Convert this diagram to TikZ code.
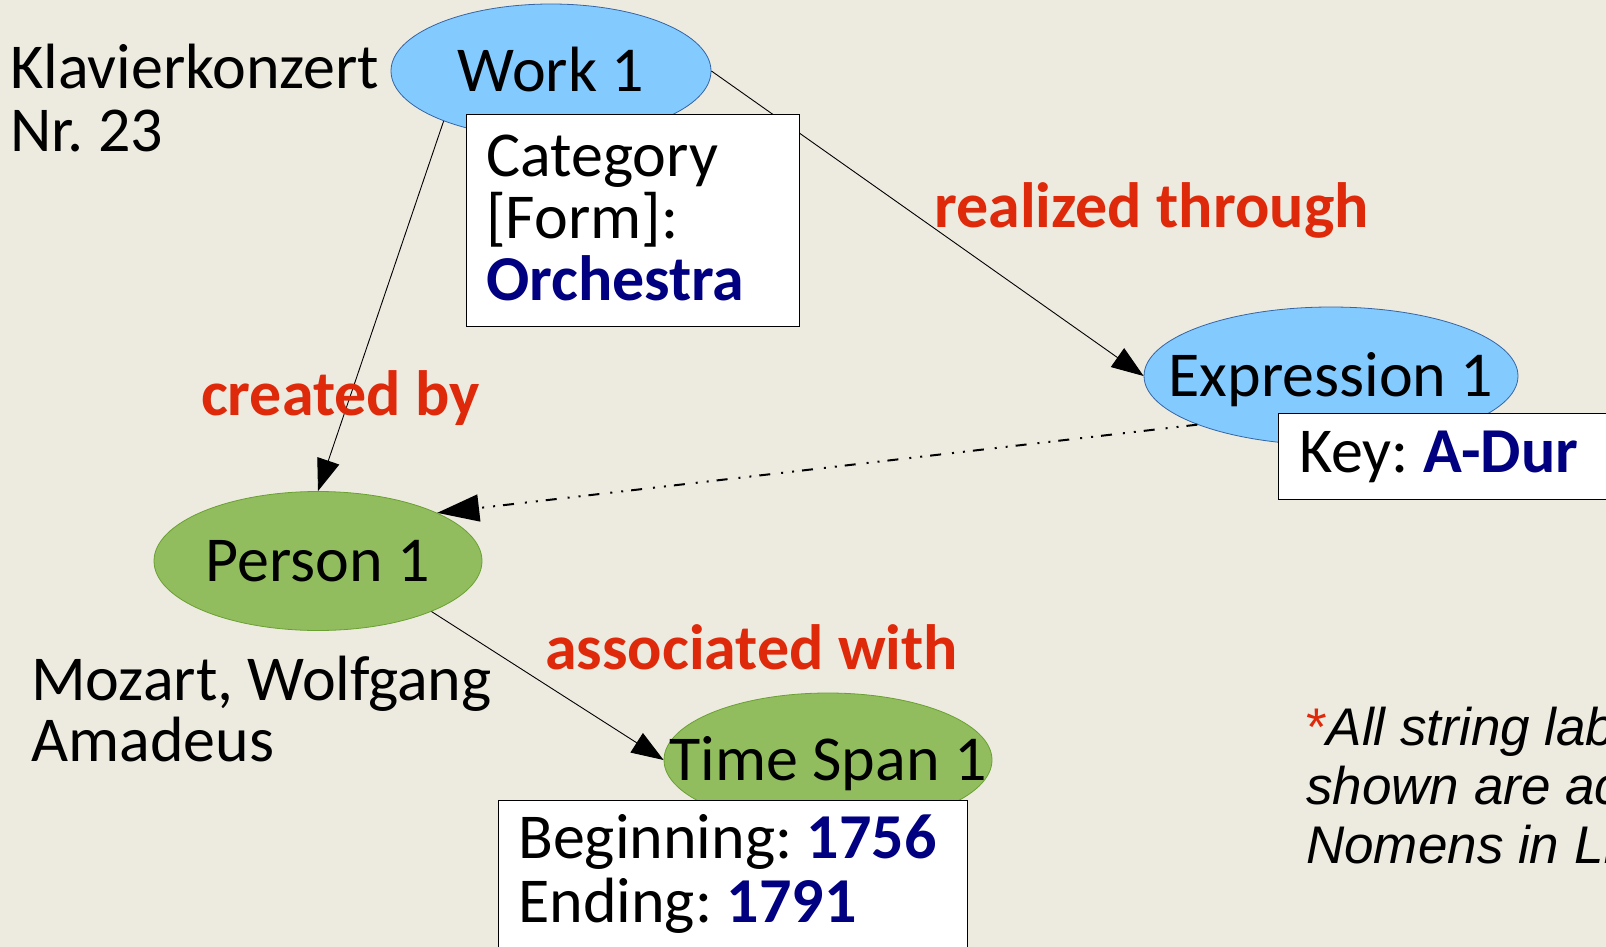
\documentclass[tikz,border=0pt]{standalone}
\usepackage{fontspec}
\setmainfont{Carlito}
\newfontfamily\notefont{Liberation Sans}
\usetikzlibrary{shapes.geometric,arrows.meta}
\definecolor{bg}{RGB}{237,235,224}
\definecolor{ellblue}{RGB}{131,202,255}
\definecolor{ellblueborder}{RGB}{52,101,164}
\definecolor{ellgreen}{RGB}{146,189,94}
\definecolor{ellgreenborder}{RGB}{106,160,50}
\definecolor{relred}{RGB}{222,41,10}
\definecolor{valblue}{RGB}{0,0,128}
\frenchspacing
\begin{document}
\begin{tikzpicture}[x=1pt,y=-1pt,
  ent/.style={ellipse, draw, line width=0.8pt, inner sep=0pt},
  blueent/.style={ent, fill=ellblue, draw=ellblueborder},
  greenent/.style={ent, fill=ellgreen, draw=ellgreenborder},
  bigfont/.style={font=\fontsize{64}{62}\selectfont},
  txt/.style={bigfont, inner sep=0pt, anchor=base west},
  ctr/.style={bigfont, inner sep=0pt, text height=41pt, text depth=0pt},
  rel/.style={txt, font=\fontsize{64}{62}\selectfont\bfseries, text=relred},
  attrbox/.style={draw, fill=white, line width=1.2pt, anchor=north west, inner sep=0pt},
  arr/.style={line width=0.9pt, -{Triangle[length=32pt,width=23pt]}},
  dasharr/.style={line width=2pt, dash pattern=on 11pt off 8pt on 2pt off 9pt on 2pt off 11pt,
      -{Triangle[length=42pt,width=27pt]}},
  note/.style={font=\fontsize{53}{58}\selectfont\notefont\itshape, inner sep=0pt, anchor=base west}
]
\clip (0,0) rectangle (1606,947);
\fill[bg] (0,0) rectangle (1606,947);

% entities
\node[blueent, minimum width=320pt, minimum height=134pt] (work) at (551,71) {};
\node[blueent, minimum width=374pt, minimum height=138pt] (expr) at (1331,376) {};
\node[greenent, minimum width=328pt, minimum height=139pt] (person) at (318,561) {};
\node[greenent, minimum width=328pt, minimum height=134pt] (tspan) at (828,760) {};

% connectors
\draw[arr] (work.east) -- (expr.west);
\draw[arr] (work.205.5) -- (person.north);
\draw[dasharr] (expr.200.2) -- (person.22.7);
\draw[arr] (person.336.9) -- (tspan.west);

% attribute boxes
\node[attrbox, minimum width=333pt, minimum height=212pt] (catbox) at (466,114) {};
\node[attrbox, minimum width=380pt, minimum height=86pt] (keybox) at (1278,413) {};
\node[attrbox, minimum width=469pt, minimum height=160pt] (tsbox) at (498,800) {};

% entity texts
\node[ctr] (worktxt) at (work.center) {Work 1};
\node[ctr] (exprtxt) at (expr.center) {Expression 1};
\node[ctr] (persontxt) at (person.center) {Person 1};
\node[ctr] (tspantxt) at (tspan.center) {Time Span 1};

% box texts
\node[txt] (cat1) at (486,176) {Category};
\node[txt] (cat2) at (486,238) {[Form]:};
\node[txt, font=\fontsize{64}{62}\selectfont\bfseries, text=valblue] (cat3) at (486,300) {Orchestra};
\node[txt] (key) at (1299,472) {Key: \textcolor{valblue}{\bfseries A-Dur}};
\node[txt] (beg) at (518,858) {Beginning: \textcolor{valblue}{\bfseries 1756}};
\node[txt] (end) at (518,922) {Ending: \textcolor{valblue}{\bfseries 1791}};

% names
\node[txt] (klav1) at (10,89) {Klavierkonzert};
\node[txt] (klav2) at (10,151) {Nr. 23};
\node[txt] (moz1) at (31,700) {Mozart, Wolfgang};
\node[txt] (moz2) at (31,761) {Amadeus};

% relation labels
\node[rel] (lreal) at (934,227) {realized through};
\node[rel] (lcreat) at (201,415) {created by};
\node[rel] (lassoc) at (545,669) {associated with};

% footnote
\node[note] (n1) at (1306,745) {\textcolor{relred}{\upshape *}All string labels};
\node[note] (n2) at (1306,804) {shown are actually};
\node[note] (n3) at (1306,863) {Nomens in LRMoo};
\end{tikzpicture}
\end{document}
